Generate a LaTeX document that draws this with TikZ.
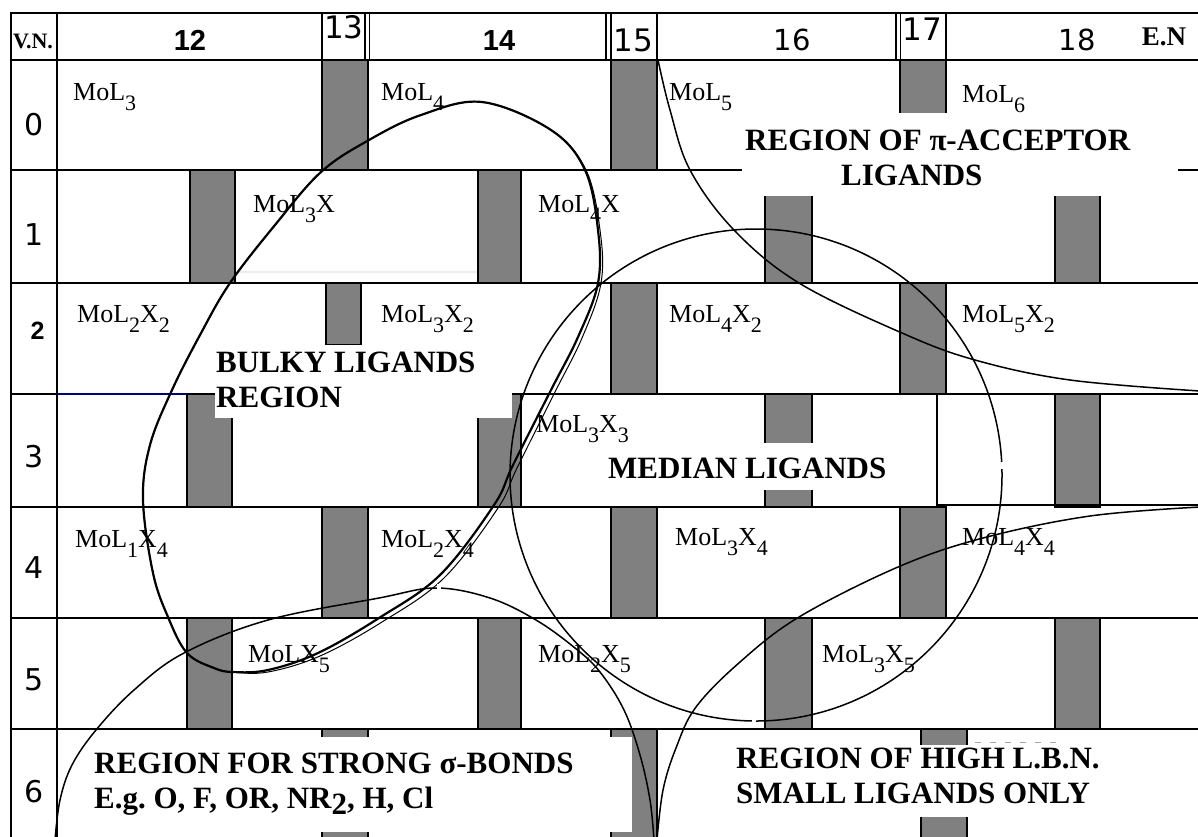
\documentclass[tikz,border=0pt]{standalone}
\usepackage{fontspec}
\setmainfont{Liberation Serif}
\newfontfamily\dejavu{DejaVu Sans}
\newfontfamily\hbold{Liberation Sans Bold}
\definecolor{barg}{RGB}{128,128,128}
\definecolor{navyline}{RGB}{0,0,120}
\newcommand\molfont{\fontsize{26}{28}\selectfont}
\newcommand\lowsub[1]{\raisebox{-10pt}{\fontsize{22}{22}\selectfont #1}}
\newcommand\regfont{\fontsize{31}{35}\selectfont\bfseries}
\newcommand\hdboldfont{\hbold\fontsize{29}{29}\selectfont}
\newcommand\rowboldfont{\hbold\fontsize{25}{25}\selectfont}
\tikzset{
  gridline/.style={line width=1.8pt},
  barbox/.style={fill=barg, draw=black, line width=1.8pt},
  maskbox/.style={fill=white, draw=none},
  lab/.style={font=\molfont, anchor=base west, inner sep=0pt},
  reg/.style={font=\regfont, anchor=base west, inner sep=0pt},
  hdbold/.style={font=\hdboldfont, anchor=base, inner sep=0pt},
  hdnum/.style={font=\dejavu\fontsize{31}{31}\selectfont, anchor=base, inner sep=0pt},
  hdnumb/.style={font=\dejavu\fontsize{29}{29}\selectfont, anchor=base, inner sep=0pt},
  hdser/.style={font=\bfseries\fontsize{22}{22}\selectfont, anchor=base, inner sep=0pt},
  rownum/.style={font=\dejavu\fontsize{30}{30}\selectfont, anchor=base, inner sep=0pt},
  rowbold/.style={font=\rowboldfont, anchor=base, inner sep=0pt},
  region/.style={line width=1.5pt},
  bulky/.style={line width=2.2pt},
}
\begin{document}
\begin{tikzpicture}[x=1pt,y=-1pt]
\fill[white] (0,0) rectangle (1198,836);
\useasboundingbox (0,0) rectangle (1198,836);

% ---------- bars ----------
% row 0
\draw[barbox] (322,60) rectangle (368,170);
\draw[barbox] (611,60) rectangle (657,170);
\draw[barbox] (900,60) rectangle (946,170);
% row 1
\draw[barbox] (190,170) rectangle (235,283);
\draw[barbox] (478,170) rectangle (521,283);
\draw[barbox] (765,170) rectangle (812,283);
\draw[barbox] (1055,170) rectangle (1100,283);
% row 2
\draw[barbox] (326,283) rectangle (361,345);
\draw[barbox] (611,283) rectangle (657,394);
\draw[barbox] (900,283) rectangle (946,394);
% row 3
\draw[barbox] (187,394) rectangle (232,507);
\draw[barbox] (478,394) rectangle (521,507);
\draw[barbox] (765,394) rectangle (812,507);
\draw[barbox] (1055,394) rectangle (1100,507);
% row 4
\draw[barbox] (322,507) rectangle (368,618);
\draw[barbox] (611,507) rectangle (657,618);
\draw[barbox] (900,507) rectangle (946,618);
% row 5
\draw[barbox] (187,618) rectangle (232,729);
\draw[barbox] (478,618) rectangle (521,729);
\draw[barbox] (765,618) rectangle (812,729);
\draw[barbox] (1055,618) rectangle (1100,729);
% row 6
\draw[barbox] (322,729) rectangle (368,840);
\draw[barbox] (611,729) rectangle (657,840);
\draw[barbox] (921,729) rectangle (967,840);

% ---------- grid ----------
\draw[gridline] (11,13) -- (1200,13);
\draw[gridline] (11,60) -- (1200,60);
\foreach \yy in {170,283,394,618,729} \draw[gridline] (11,\yy) -- (1200,\yy);
\draw[gridline] (11,507) -- (937,507);
\draw[gridline] (937,505) -- (1200,505);
\draw[gridline] (11,12) -- (11,840);
\draw[gridline] (57,12) -- (57,840);
\foreach \xx in {322,657,946} \draw[gridline] (\xx,13) -- (\xx,60);
\foreach \xx in {365,369.5,606,611,896,900.5} \draw[line width=1.2pt] (\xx,13) -- (\xx,60);
\draw[line width=1.8pt, navyline] (58,394) -- (187,394);
\draw[line width=1.5pt, gray!15] (236,272) -- (477,272);

% ---------- white masks behind region texts ----------
\fill[maskbox] (742,113) rectangle (1178,196);
\fill[maskbox] (215,345) rectangle (512,418);
\fill[maskbox] (523,443) rectangle (937,490);
\fill[maskbox] (100,737) rectangle (632,832);
\fill[maskbox] (730,745) rectangle (1120,817);
\draw[line width=1.5pt] (937,394) -- (937,507);
\draw[line width=1pt, dash pattern=on 6pt off 9pt, gray!70] (975,742) -- (1060,742);

% ---------- header ----------
\node[hdser] (vn) at (33,48) {V.N.};
\node[hdbold] (h12) at (190,50) {12};
\node[hdnum] (h13) at (344,38) {13};
\node[hdbold] (h14) at (499,50) {14};
\node[hdnum] (h15) at (633,51) {15};
\node[hdnumb] (h16) at (792,50) {16};
\node[hdnum] (h17) at (922,40) {17};
\node[hdnumb] (h18) at (1077,50) {18};
\node[hdser, font=\bfseries\fontsize{27}{27}\selectfont] (en) at (1164,45) {E.N};

% ---------- row numbers ----------
\node[rownum] (r0) at (34,135) {0};
\node[rownum] (r1) at (34,245) {1};
\node[rowbold] (r2) at (37.5,339) {2};
\node[rownum] (r3) at (34,467) {3};
\node[rownum] (r4) at (34,578) {4};
\node[rownum] (r5) at (34,690) {5};
\node[rownum] (r6) at (34,802) {6};

% ---------- compound labels ----------
\node[lab] (c03) at (73,100) {MoL\lowsub{3}};
\node[lab] (c04) at (381,100) {MoL\lowsub{4}};
\node[lab] (c05) at (669,100) {MoL\lowsub{5}};
\node[lab] (c06) at (962,102) {MoL\lowsub{6}};
\node[lab] (c13) at (253,212) {MoL\lowsub{3}X};
\node[lab] (c14) at (538,212) {MoL\lowsub{4}X};
\node[lab] (c22) at (77,322) {MoL\lowsub{2}X\lowsub{2}};
\node[lab] (c23) at (381,322) {MoL\lowsub{3}X\lowsub{2}};
\node[lab] (c24) at (669,322) {MoL\lowsub{4}X\lowsub{2}};
\node[lab] (c25) at (962,322) {MoL\lowsub{5}X\lowsub{2}};
\node[lab] (c33) at (536,432) {MoL\lowsub{3}X\lowsub{3}};
\node[lab] (c41) at (75,547) {MoL\lowsub{1}X\lowsub{4}};
\node[lab] (c42) at (381,547) {MoL\lowsub{2}X\lowsub{4}};
\node[lab] (c43) at (675,545) {MoL\lowsub{3}X\lowsub{4}};
\node[lab] (c44) at (962,545) {MoL\lowsub{4}X\lowsub{4}};
\node[lab] (c51) at (248,662) {MoLX\lowsub{5}};
\node[lab] (c52) at (538,662) {MoL\lowsub{2}X\lowsub{5}};
\node[lab] (c53) at (822,662) {MoL\lowsub{3}X\lowsub{5}};

% ---------- region texts ----------
\node[reg] (pia) at (745,150) {REGION OF π-ACCEPTOR};
\node[reg] (pib) at (841,185) {LIGANDS};
\node[reg] (bua) at (216,372) {BULKY LIGANDS};
\node[reg] (bub) at (216,407) {REGION};
\node[reg] (med) at (608,478) {MEDIAN LIGANDS};
\node[reg] (sga) at (94,773) {REGION FOR STRONG σ-BONDS};
\node[reg] (sgb) at (94,808) {E.g.\ O, F, OR, NR\raisebox{-6pt}{2}, H, Cl};
\node[reg] (lba) at (736,768) {REGION OF HIGH L.B.N.};
\node[reg] (lbb) at (736,803) {SMALL LIGANDS ONLY};

% ---------- region outlines ----------
% bulky ligands (double stroke)
\draw[bulky] plot[smooth cycle, tension=0.6] coordinates {
 (482,102) (551,130) (585,170) (598,230) (598,283) (578,337) (551,390)
 (513,465) (494,505) (440,575) (379,618) (318,653) (268,670) (233,672)
 (214,668) (187,653) (168,617) (153,573) (143,500) (150,445) (172,390)
 (200,335) (230,283) (275,225) (321,172) (369,140) (421,115)};
\draw[line width=1pt] plot[smooth cycle, tension=0.6] coordinates {
 (482,102) (551,130) (586,170) (600,230) (601,283) (582,338) (555,392)
 (517,468) (498,508) (444,578) (382,622) (320,656) (268,672) (233,672)
 (214,668) (187,653) (168,617) (153,573) (143,500) (150,445) (172,390)
 (200,335) (230,283) (275,225) (321,172) (369,140) (421,115)};
% pi-acceptor
\draw[region] plot[smooth, tension=0.6] coordinates {
 (658,60) (670,110) (690,170) (734,230) (799,283) (902,333) (975,360) (1070,380) (1200,391)};
% median ligands
\draw[region] (756,475) circle [radius=246];
% strong sigma bonds
\draw[region] plot[smooth, tension=0.6] coordinates {
 (55,840) (60,800) (72,765) (96,730) (134,690) (184,653) (268,620) (379,598)
 (436,588) (490,598) (536,620) (575,648) (600,672) (624,710) (640,755) (650,800) (654,840)};
% high L.B.N.
\draw[region] plot[smooth, tension=0.6] coordinates {
 (657,840) (663,790) (676,748) (696,707) (740,662) (799,617) (898,567) (983,538) (1090,516) (1200,507)};
% small breaks in the outlines, as printed
\fill[white] (437,584) rectangle (441,592);
\fill[white] (998,462) rectangle (1006,469);
\fill[white] (752,716) rectangle (756,724);
\end{tikzpicture}
\end{document}
